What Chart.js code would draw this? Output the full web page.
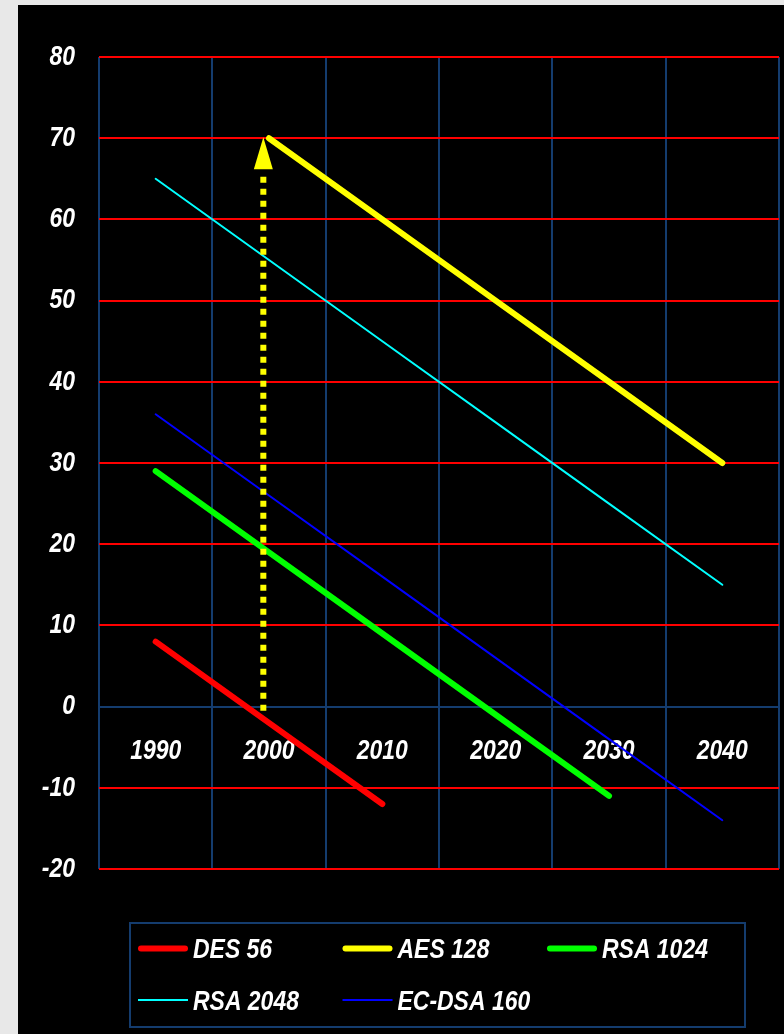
<!DOCTYPE html>
<html>
<head>
<meta charset="utf-8">
<script src="https://cdn.jsdelivr.net/npm/chart.js@4.4.1/dist/chart.umd.min.js"></script>
<style>
  html, body { margin: 0; padding: 0; width: 784px; height: 1034px; overflow: hidden; background: #e8e8e8; }
  #frame { position: absolute; left: 18px; top: 5px; width: 766px; height: 1029px; background: #000; }
</style>
</head>
<body>
<div id="frame"><canvas id="chart"></canvas></div>
<script>
// Years on the category axis
const years = ['1990', '2000', '2010', '2020', '2030', '2040'];

// Security margin of each algorithm / key size, by year
const des56    = [8, -2, -12, null, null, null];
const aes128   = [null, 70, 60, 50, 40, 30];
const rsa1024  = [29, 19, 9, -1, -11, null];
const rsa2048  = [65, 55, 45, 35, 25, 15];
const ecdsa160 = [36, 26, 16, 6, -4, -14];

// Value axis range and step
const yMin = -20, yMax = 80, yStep = 10;

// Dotted arrow marking the arrival of AES: rises from the zero line to its starting level
const aesArrow = { year: 1999.5, from: -0.5, to: 70 };

const FONT = '"Liberation Sans", Arial, sans-serif';
const FONT_SIZE = 28;
const NARROW = 0.82;          // horizontal squeeze for the narrow bold-italic lettering
const GRID_BLUE = '#143c6e';

function labelFont() { return 'italic bold ' + FONT_SIZE + 'px ' + FONT; }

// Narrow text: drawn with a horizontal scale around its anchor point
function narrowText(ctx, text, x, y, align) {
  ctx.save();
  ctx.translate(x, y);
  ctx.scale(NARROW, 1);
  ctx.textAlign = align;
  ctx.textBaseline = 'middle';
  ctx.fillText(text, 0, 0);
  ctx.restore();
}

// Tick labels of both axes, placed from the scales' own ticks (under the lines)
const narrowTicks = {
  id: 'narrowTicks',
  beforeDatasetsDraw(chart, args, o) {
    const { ctx, chartArea: a, scales: { x, y } } = chart;
    ctx.save();
    ctx.font = labelFont();
    ctx.fillStyle = '#ffffff';
    const base = y.getPixelForValue(0) + o.xLabelDrop;
    x.ticks.forEach((t, i) => narrowText(ctx, x.getLabelForValue(t.value), x.getPixelForTick(i), base, 'center'));
    y.ticks.forEach((t, i) => narrowText(ctx, String(t.value), a.left - o.yLabelGap, y.getPixelForTick(i), 'right'));
    ctx.restore();
  }
};

// Draws the dotted yellow arrow from the scales
const arrowPlugin = {
  id: 'aesArrow',
  afterDatasetsDraw(chart) {
    const { ctx, scales: { x, y } } = chart;
    const idx = (aesArrow.year - Number(years[0])) / 10;
    const px = x.getPixelForValue(idx);
    const yTop = y.getPixelForValue(aesArrow.to);
    const yBot = y.getPixelForValue(aesArrow.from);
    const headH = 31, headW = 19;
    ctx.save();
    ctx.strokeStyle = '#ffff00';
    ctx.lineWidth = 6;
    ctx.lineCap = 'butt';
    ctx.setLineDash([6, 6]);
    ctx.beginPath();
    ctx.moveTo(px, yBot);
    ctx.lineTo(px, yTop + headH + 2);
    ctx.stroke();
    ctx.setLineDash([]);
    ctx.fillStyle = '#ffff00';
    ctx.beginPath();
    ctx.moveTo(px, yTop - 1);
    ctx.lineTo(px - headW / 2, yTop + headH);
    ctx.lineTo(px + headW / 2, yTop + headH);
    ctx.closePath();
    ctx.fill();
    ctx.restore();
  }
};

// Boxed legend laid out in a fixed three-column grid
const gridLegend = {
  id: 'gridLegend',
  afterDraw(chart, args, o) {
    const { ctx, chartArea: a } = chart;
    const left = a.left + o.offsetX, top = a.bottom + o.offsetY;
    ctx.save();
    ctx.strokeStyle = o.borderColor;
    ctx.lineWidth = 2;
    ctx.strokeRect(left, top, o.width, o.height);
    ctx.font = labelFont();
    chart.data.datasets.forEach((ds, i) => {
      const col = i % o.columns, row = Math.floor(i / o.columns);
      const x0 = left + o.padX + col * o.colWidth;
      const yc = top + o.rowY[row];
      const thick = ds.borderWidth > 3;
      const cap = thick ? ds.borderWidth / 2 : 0;
      ctx.strokeStyle = ds.borderColor;
      ctx.lineWidth = ds.borderWidth;
      ctx.lineCap = thick ? 'round' : 'butt';
      ctx.beginPath();
      ctx.moveTo(x0 + cap, yc);
      ctx.lineTo(x0 + o.sampleLen - cap, yc);
      ctx.stroke();
      ctx.fillStyle = '#ffffff';
      narrowText(ctx, ds.label, x0 + o.textX, yc + o.textDy, 'left');
    });
    ctx.restore();
  }
};

function series(label, data, color, width) {
  return {
    label, data,
    borderColor: color, backgroundColor: color,
    borderWidth: width,
    borderCapStyle: 'round', borderJoinStyle: 'round',
    pointRadius: 0, pointHoverRadius: 0,
    fill: false, spanGaps: false, tension: 0
  };
}

new Chart(document.getElementById('chart'), {
  type: 'line',
  data: {
    labels: years,
    datasets: [
      series('DES 56', des56, '#ff0000', 6),
      series('AES 128', aes128, '#ffff00', 6),
      series('RSA 1024', rsa1024, '#00ff00', 6),
      series('RSA 2048', rsa2048, '#00ffff', 2),
      series('EC-DSA 160', ecdsa160, '#0000ff', 2)
    ]
  },
  options: {
    responsive: true,
    maintainAspectRatio: false,
    animation: false,
    events: [],
    layout: { padding: { left: 0, top: 52, right: 5, bottom: 165 } },
    scales: {
      x: {
        type: 'category',
        position: { y: 0 },
        offset: true,
        afterFit(s) { s.height = 0; },
        grid: { offset: true, color: GRID_BLUE, lineWidth: 2, drawTicks: false },
        border: { display: true, color: GRID_BLUE, width: 2 },
        ticks: { display: false, maxRotation: 0, autoSkip: false }
      },
      y: {
        min: yMin, max: yMax,
        afterFit(s) { s.width = 81; },
        grid: {
          drawTicks: false, lineWidth: 2,
          color: c => (c.tick && c.tick.value === 0) ? 'rgba(0,0,0,0)' : '#ff0000'
        },
        border: { display: false },
        ticks: { display: false, stepSize: yStep }
      }
    },
    plugins: {
      legend: { display: false },
      tooltip: { enabled: false },
      narrowTicks: { xLabelDrop: 45, yLabelGap: 24 },
      gridLegend: {
        offsetX: 31, offsetY: 54, width: 615, height: 104,
        borderColor: GRID_BLUE, columns: 3, padX: 8, colWidth: 204.5,
        rowY: [25.5, 77], sampleLen: 50, textX: 55, textDy: 2
      }
    }
  },
  plugins: [narrowTicks, arrowPlugin, gridLegend]
});
</script>
</body>
</html>
